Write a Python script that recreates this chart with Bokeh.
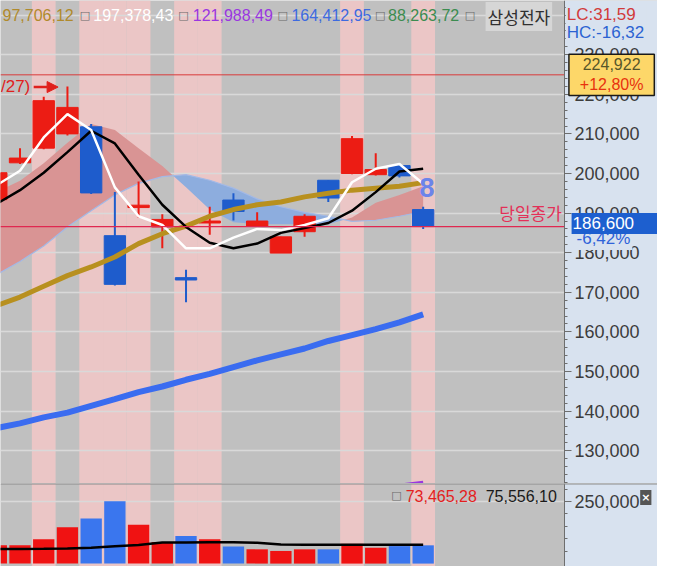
from bokeh.plotting import figure
from bokeh.layouts import column
from bokeh.models import (Range1d, Label, Span, Arrow, NormalHead,
                          SingleIntervalTicker, FixedTicker, NumeralTickFormatter)
from bokeh.embed import file_html
from bokeh.resources import INLINE

# ---------------- data ----------------
opens  = [193400, 202700, 206400, 210000, 211800, 184300, 191400, 186500, 173700, 187500,
          193300, 186700, 179900, 185300, 198300, 200000, 199700, 202000, 190900]
highs  = [201000, 206400, 219400, 222000, 212500, 195300, 198000, 189700, 175700, 191600,
          195000, 190200, 184000, 189700, 198300, 209500, 205100, 202200, 191600]
lows   = [192800, 202400, 206100, 209600, 194800, 171700, 188800, 181100, 167500, 184500,
          188100, 186500, 179900, 184000, 192800, 199800, 199500, 199000, 186000]
closes = [200200, 203900, 218400, 216700, 195100, 172000, 192000, 188400, 173100, 188000,
          190400, 188000, 184000, 189200, 193800, 208800, 201000, 199400, 186600]

ma_white = [197000, 200700, 209100, 215000, 211000, 196500, 189200, 187000, 181100, 181100,
            183800, 186000, 185700, 187000, 188700, 197800, 201200, 202400, 197400]
ma_black = [192300, 195800, 200200, 205400, 210800, 207600, 199700, 192100, 186500, 182500,
            181100, 182300, 185000, 186200, 187500, 190600, 195300, 200500, 201200]
ma_gold  = [166600, 168800, 171500, 174200, 176400, 178900, 182300, 184800, 186700, 189200,
            190900, 192100, 192800, 194100, 195000, 195800, 196300, 196800, 197700]
ma_blue  = [135700, 136900, 138400, 139600, 141300, 143000, 144800, 146200, 147900, 149400,
            151100, 152800, 154300, 155800, 157700, 159200, 160700, 162400, 164400]
ma_purple_x = [17, 18]
ma_purple   = [121300, 122000]

span_a = [195300, 198200, 202600, 207800, 212500, 211000, 206400, 201900, 196500, 190900,
          187700, 187200, 187200, 187200, 187200, 188900, 192600, 194600, 196800]
span_b = [174400, 177800, 181700, 186500, 190600, 194600, 197500, 199200, 199700, 198300,
          196300, 193600, 191600, 190200, 189200, 187900, 188200, 189200, 190400]

volumes = [74200, 74200, 97700, 145700, 180900, 251200, 156200, 87100, 110500, 97700,
           69100, 57400, 50800, 57400, 57400, 79300, 63700, 70300, 73465]
vol_ma  = [59000, 59000, 59500, 61000, 64000, 69500, 74600, 85200, 85200, 85600,
           85600, 84000, 76500, 76200, 76000, 75800, 75600, 75600, 75556]

band_days = [2, 4, 5, 6, 8, 9, 15, 18]
high_mark = 224922

header_items = [("97,706,12", "#b08a2c"), ("197,378,43", "#ffffff"), ("121,988,49", "#9a36e0"),
                ("164,412,95", "#3d6ae0"), ("88,263,72", "#3c8c50")]
stock_name = "삼성전자"
lc_text, hc_text = "LC:31,59", "HC:-16,32"
box_price, box_pct = "224,922", "+12,80%"
close_text, close_pct = "186,600", "-6,42%"
close_label = "당일종가"
date_mark = "/27)"
vol_legend = ("73,465,28", "75,556,10")

# ---------------- geometry / style ----------------
W, H = 657, 566
SX, SY = W / 673, H / 582
FW = 564                      # width of the chart area left of the price axis
PH = 483
VH = H - PH
X0, X1 = 0.177, 23.96         # index range of the chart area
XE = X0 + (X1 - X0) * W / FW  # frame extends under the axis strip
P_LO, P_HI = 121700, 243700
V_LO, V_HI = -11700, 322200

BG = "#c0c0c0"
AXBG = "#d8e2ef"
BAND = "#ebc6c6"
RED = "#ec1c14"
BLUE = "#1e5ccc"
VRED = "#f01212"
VBLUE = "#3a76ee"
NUMF = "Liberation Sans"
KRF = "Noto Sans CJK KR"

n = len(closes)
idx = list(range(n))


def make_fig(h, y_lo, y_hi, ticker, x_range=None):
    fig = figure(width=W, height=h, x_range=x_range or Range1d(X0, XE), y_range=Range1d(y_lo, y_hi),
                 x_axis_location=None, y_axis_location="right", output_backend="svg",
                 toolbar_location=None, min_border_left=0, min_border_right=0,
                 min_border_top=0, min_border_bottom=0)
    fig.background_fill_color = BG
    fig.border_fill_color = AXBG
    fig.outline_line_color = None
    fig.xgrid.grid_line_color = None
    fig.ygrid.grid_line_color = "#d9d9d9"
    fig.ygrid.grid_line_width = 1.5
    ax = fig.yaxis[0]
    ax.fixed_location = X1
    ax.ticker = ticker
    ax.axis_line_color = "#6e6e6e"
    ax.major_tick_line_color = "#6e6e6e"
    ax.minor_tick_line_color = "#6e6e6e"
    ax.major_tick_in = 0
    ax.major_tick_out = 7
    ax.minor_tick_in = 0
    ax.minor_tick_out = 3
    ax.major_label_standoff = 3
    ax.major_label_text_font = NUMF
    ax.major_label_text_font_size = "18px"
    ax.major_label_text_color = "#3c3c3c"
    ax.formatter = NumeralTickFormatter(format="0,0")
    # highlighted day bands and the axis strip background
    fig.vbar(x=band_days, width=1, top=y_hi, bottom=y_lo, fill_color=BAND, line_color=None, level="image")
    fig.quad(left=[X1], right=[XE], bottom=[y_lo], top=[y_hi], fill_color=AXBG, line_color=None)
    return fig


p = make_fig(PH, P_LO, P_HI, SingleIntervalTicker(interval=10000, num_minor_ticks=5))

# cloud (split at crossings)
cx, ca, cb = [], [], []
for i in range(n):
    cx.append(i); ca.append(span_a[i]); cb.append(span_b[i])
    if i < n - 1:
        d0 = span_a[i] - span_b[i]
        d1 = span_a[i + 1] - span_b[i + 1]
        if d0 * d1 < 0:
            t = d0 / (d0 - d1)
            yv = span_a[i] + t * (span_a[i + 1] - span_a[i])
            cx.append(i + t); ca.append(yv); cb.append(yv)
ctop = [max(a, b) for a, b in zip(ca, cb)]
p.varea(x=cx, y1=cb, y2=ctop, fill_color="#d99494")
p.varea(x=cx, y1=ca, y2=ctop, fill_color="#8dadde")
p.line(x=idx, y=span_b, line_color="#a3b9e6", line_width=1.2)

# candles
for up, col in ((True, RED), (False, BLUE)):
    sel = [i for i in idx if (closes[i] >= opens[i]) == up]
    p.segment(x0=sel, y0=[lows[i] for i in sel], x1=sel, y1=[highs[i] for i in sel],
              line_color=col, line_width=2)
    p.vbar(x=sel, width=0.9, top=[max(opens[i], closes[i]) for i in sel],
           bottom=[min(opens[i], closes[i]) for i in sel], fill_color=col, line_color=col)

# moving averages
p.line(idx, ma_blue, line_color="#3a6cf0", line_width=6)
p.line(ma_purple_x, ma_purple, line_color="#9a36e0", line_width=3)
p.line(idx, ma_gold, line_color="#b8901f", line_width=5)
p.line(idx, ma_black, line_color="#000000", line_width=2.5)
p.line(idx, ma_white, line_color="#ffffff", line_width=2.5)

# horizontal reference lines (chart area only)
p.segment(x0=[X0], x1=[X1], y0=[high_mark], y1=[high_mark], line_color="#d83a3a", line_width=1)
p.segment(x0=[X0], x1=[X1], y0=[closes[-1]], y1=[closes[-1]], line_color="#e02850", line_width=1.2)


def lab(fig, fh, top_ref, text, xr, yr, color, size=16, align="left", font=NUMF, **kw):
    fig.add_layout(Label(x=xr * SX, y=fh - (yr * SY - top_ref), x_units="screen", y_units="screen",
                         text=text, text_color=color, text_font=font, text_font_size=f"{size}px",
                         text_align=align, text_baseline="middle", **kw))


def plab(*a, **k):
    lab(p, PH, 0, *a, **k)


def vlab(*a, **k):
    lab(p2, VH, PH, *a, **k)


def price_lab(text, xr, v, color, size=16, align="left", font=NUMF, **kw):
    p.add_layout(Label(x=xr * SX, y=v, x_units="screen", y_units="data", text=text,
                       text_color=color, text_font=font, text_font_size=f"{size}px",
                       text_align=align, text_baseline="middle", **kw))


# header legend
plab(header_items[0][0], 75, 15, header_items[0][1], align="right")
lefts = [None, 95, 197, 298, 397]
for (txt, col), lx in zip(header_items[1:], lefts[1:]):
    plab(txt, lx, 15, col)
for sqx in (86.5, 187.5, 289, 389, 481):
    plab("□", sqx, 15.5, "#6a6a6a", size=11, align="center", font="DejaVu Sans")
plab(stock_name, 531, 16.5, "#303030", size=17, align="center", font=KRF,
     background_fill_color="#d6d6d6", padding=2)
nb = "\u00a0\u00a0"
plab(lc_text + nb, 579, 14.5, "#d23a3a", size=17, background_fill_color=AXBG, padding=1)
plab(hc_text, 579, 33, "#2c62d2", size=17, background_fill_color=AXBG, padding=1)

# marker for top candle
plab(date_mark, 0.5, 88, "#e0201c", size=17)
ay = PH - 89 * SY
p.add_layout(Arrow(x_start=34 * SX, y_start=ay, x_end=59 * SX, y_end=ay,
                   start_units="screen", end_units="screen", line_color="#e0201c", line_width=2.5,
                   end=NormalHead(size=11, fill_color="#e0201c", line_color="#e0201c")))

# signal glyph
plab("8", 437, 192, "#6c84ea", size=27, align="center", text_font_style="bold")

# close label
plab(close_label, 575, 218, "#e33058", size=17, align="right", font=KRF)

# right-side price boxes
price_lab(nb + box_price + nb + "\n" + nb + box_pct + nb, 626, high_mark, "#56562a", size=16,
          align="center", background_fill_color="#fdd769", border_line_color="#1a1a1a",
          border_line_width=1.5, padding=2, text_line_height=1.2)
price_lab(box_pct, 626, high_mark, "#e8320e", size=16, align="center", y_offset=-9.6,
          background_fill_color="#fdd769", padding=0)
price_lab(close_pct, 588, closes[-1], "#2f63d9", size=17, y_offset=-12,
          background_fill_color=AXBG, padding=2)
price_lab(close_text + "\u00a0" * 5, 585, closes[-1], "#ffffff", size=17, y_offset=3,
          background_fill_color="#1d5fcf", padding=1)

# ---------------- volume pane ----------------
p2 = make_fig(VH, V_LO, V_HI,
              FixedTicker(ticks=[250000], minor_ticks=[50000, 100000, 150000, 200000, 300000]),
              x_range=p.x_range)
vcols = [VRED if closes[i] >= opens[i] else VBLUE for i in idx]
p2.vbar(x=idx, width=0.9, top=volumes, bottom=0, fill_color=vcols, line_color=None)
p2.line(idx, vol_ma, line_color="#000000", line_width=2.5)
p2.add_layout(Span(location=V_HI, dimension="width", line_color="#8a8a8a", line_width=2))

vlab("□", 405.5, 509, "#6a6a6a", size=11, align="center", font="DejaVu Sans")
vlab(vol_legend[0], 415, 509, "#e41e1e", size=16)
vlab(vol_legend[1], 497, 509, "#1a1a1a", size=16)
vlab("×", 661, 511, "#ffffff", size=11, align="center", font="DejaVu Sans",
     background_fill_color="#555555", padding=1, text_font_style="bold")

layout = column(p, p2, spacing=0)
open("out.html", "w").write(file_html(layout, INLINE))
